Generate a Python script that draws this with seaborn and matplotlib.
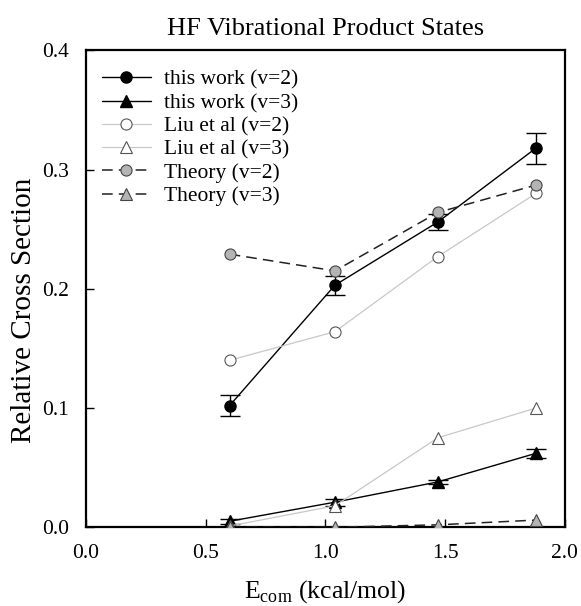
import matplotlib
matplotlib.use("Agg")
import matplotlib.pyplot as plt
import seaborn as sns
import numpy as np
import pandas as pd

sns.set_style("ticks")
plt.rcParams['font.family'] = ['Liberation Serif', 'DejaVu Serif']
plt.rcParams['mathtext.fontset'] = 'custom'
plt.rcParams['mathtext.rm'] = 'Liberation Serif'
plt.rcParams['text.color'] = 'black'
plt.rcParams['axes.labelcolor'] = 'black'
plt.rcParams['xtick.color'] = 'black'
plt.rcParams['ytick.color'] = 'black'

energy = [0.60, 1.04, 1.47, 1.88]

this_v2 = [0.102, 0.203, 0.256, 0.318]
this_v2_err = [0.009, 0.008, 0.007, 0.013]
this_v3 = [0.005, 0.021, 0.038, 0.062]
this_v3_err = [0.002, 0.003, 0.002, 0.004]
liu_v2 = [0.140, 0.164, 0.227, 0.280]
liu_v3 = [0.001, 0.018, 0.075, 0.100]
theory_v2 = [0.229, 0.215, 0.264, 0.287]
theory_v3 = [0.000, 0.000, 0.002, 0.006]

labels = ["this work (v=2)", "this work (v=3)", "Liu et al (v=2)",
          "Liu et al (v=3)", "Theory (v=2)", "Theory (v=3)"]

fig = plt.figure(figsize=(5.81, 6.06), dpi=100)
ax = fig.add_axes([0.148, 0.130, 0.824, 0.787])

styles = [
    (this_v2, dict(color='black', lw=1.0, ls='-', marker='o', ms=8, mfc='black', mec='black')),
    (this_v3, dict(color='black', lw=1.0, ls='-', marker='^', ms=8, mfc='black', mec='black')),
    (liu_v2, dict(color='#c8c8c8', lw=0.9, ls='-', marker='o', ms=8, mfc='white', mec='#555555', mew=0.8)),
    (liu_v3, dict(color='#c8c8c8', lw=0.9, ls='-', marker='^', ms=8, mfc='white', mec='#555555', mew=0.8)),
    (theory_v2, dict(color='#222222', lw=1.1, ls=(0, (7, 4)), marker='o', ms=8, mfc='#b4b4b4', mec='#444444', mew=0.8)),
    (theory_v3, dict(color='#222222', lw=1.1, ls=(0, (7, 4)), marker='^', ms=8, mfc='#b4b4b4', mec='#444444', mew=0.8)),
]

# error bars
ax.errorbar(energy, this_v2, yerr=this_v2_err, fmt='none', ecolor='black', elinewidth=1.0, capsize=7, capthick=1.0, zorder=4)
ax.errorbar(energy, this_v3, yerr=this_v3_err, fmt='none', ecolor='black', elinewidth=1.0, capsize=7, capthick=1.0, zorder=4)

for (vals, st), lab in zip(styles, labels):
    df = pd.DataFrame({"E": energy, "sigma": vals})
    sns.lineplot(data=df, x="E", y="sigma", ax=ax, label=lab,
                 color=st['color'], linewidth=st['lw'], linestyle=st['ls'],
                 marker=st['marker'], markersize=st['ms'],
                 markerfacecolor=st['mfc'], markeredgecolor=st['mec'],
                 markeredgewidth=st.get('mew', 1.0), zorder=5)

ax.set_xlim(0, 2.0)
ax.set_ylim(0, 0.4)
ax.set_xticks([0.0, 0.5, 1.0, 1.5, 2.0])
ax.set_yticks([0.0, 0.1, 0.2, 0.3, 0.4])
ax.set_xticklabels(["0.0", "0.5", "1.0", "1.5", "2.0"])
ax.set_yticklabels(["0.0", "0.1", "0.2", "0.3", "0.4"])
ax.tick_params(direction='in', length=6, width=1, labelsize=15.5, colors='black')
ax.tick_params(axis='x', pad=12)
ax.tick_params(axis='y', pad=12)
for s in ax.spines.values():
    s.set_linewidth(1.6)
    s.set_color('black')

ax.set_xlabel(r"E$_{\mathrm{com}}$ (kcal/mol)", fontsize=18.5, labelpad=11, color='black')
ax.set_ylabel("Relative Cross Section", fontsize=21, color='black')
ax.yaxis.set_label_coords(-0.103, 0.455)
ax.set_title("HF Vibrational Product States", fontsize=19, pad=11, color='black')

leg = ax.legend(loc='upper left', bbox_to_anchor=(-0.008, 1.0), frameon=False,
                fontsize=15.5, handlelength=2.3,
                labelspacing=0.15, borderaxespad=0.5, handletextpad=0.6)
for t in leg.get_texts():
    t.set_color('black')

fig.savefig("out.png", dpi=100)
